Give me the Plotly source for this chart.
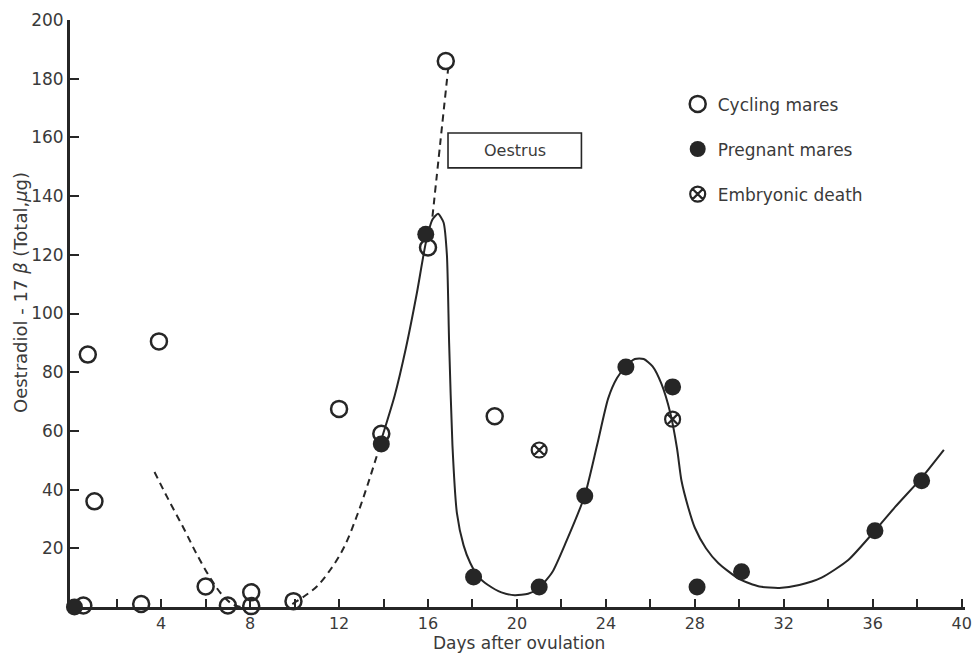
import plotly.graph_objects as go

# ---- data ----
cyc_x = [0.5, 0.7, 1.0, 3.1, 3.9, 6.0, 7.0, 8.05, 8.05, 9.95, 12.0, 13.9, 16.0, 16.8, 19.0]
cyc_y = [0.5, 86, 36, 1, 90.5, 7, 0.5, 5, 0.3, 2, 67.5, 59, 122.5, 186, 65]

preg_x = [0.1, 13.9, 15.9, 18.05, 21.0, 23.05, 24.9, 27.0, 28.1, 30.1, 36.1, 38.2]
preg_y = [0.0, 55.5, 127, 10.2, 6.8, 37.8, 81.8, 75, 6.8, 12, 26, 43]

emb_x = [21.0, 27.0]
emb_y = [53.5, 64]

# solid fitted curve (pregnant mares)
solid_x = [13.9, 14.5, 15.0, 15.5, 15.9, 16.2, 16.45, 16.7, 16.85, 16.95, 17.1, 17.3, 17.6,
           17.9, 18.3, 18.7, 19.3, 19.9, 20.5, 21.0, 21.6, 22.2, 23.05, 23.6, 24.1, 24.5,
           24.9, 25.3, 25.7, 26.1, 26.5, 26.9, 27.2, 27.4, 27.7, 28.0, 28.5, 29.05, 30.0,
           30.9, 31.8, 32.7, 33.7, 34.9, 36.1, 37.0, 38.2, 39.2]
solid_y = [57, 72, 88, 107, 124, 132, 134, 131, 120, 90, 55, 32, 21,
           15, 10, 7.5, 5, 4, 4.5, 6.5, 12, 22, 38, 55, 71, 78,
           82, 84.5, 84.5, 82, 76, 66, 54, 43, 34, 27, 20, 15, 9.5,
           7, 6.5, 7.5, 10, 16, 26, 34, 44, 53.5]

# dashed curves (cycling mares)
dash1_x = [3.7, 4.3, 5.0, 5.6, 6.2, 6.7, 7.2, 7.6]
dash1_y = [46, 37, 27, 18, 10, 4.5, 1, 0]
dash2_x = [9.9, 10.5, 11.0, 11.6, 12.2, 12.8, 13.3, 13.8]
dash2_y = [1.0, 4, 7, 12.6, 20, 31, 42, 54]
dash3_x = [16.2, 16.55, 16.9]
dash3_y = [133, 158, 183]

# oestrus box
oes_x = [16.9, 22.9]
oes_y = [149.6, 161.5]

x_ticks = [4, 8, 12, 16, 20, 24, 28, 32, 36, 40]
y_ticks = [20, 40, 60, 80, 100, 120, 140, 160, 180, 200]

INK = "#262626"
TXT = "#3a3a3a"
FONT = "DejaVu Sans"

fig = go.Figure()

fig.add_trace(go.Scatter(x=solid_x, y=solid_y, mode="lines", line=dict(color=INK, width=2, shape="spline", smoothing=0.6),
                         showlegend=False, hoverinfo="skip", cliponaxis=False))
for dx, dy in [(dash1_x, dash1_y), (dash2_x, dash2_y), (dash3_x, dash3_y)]:
    fig.add_trace(go.Scatter(x=dx, y=dy, mode="lines", line=dict(color=INK, width=2, dash="7px,5px", shape="spline"),
                             showlegend=False, hoverinfo="skip", cliponaxis=False))

fig.add_trace(go.Scatter(x=cyc_x, y=cyc_y, mode="markers", name="Cycling mares", legendgroup="a",
                         marker=dict(symbol="circle-open", size=16, color=INK, line=dict(width=2.5, color=INK)),
                         cliponaxis=False))
fig.add_trace(go.Scatter(x=preg_x, y=preg_y, mode="markers", name="Pregnant mares", legendgroup="b",
                         marker=dict(symbol="circle", size=17, color=INK, line=dict(width=0)),
                         cliponaxis=False))
fig.add_trace(go.Scatter(x=emb_x, y=emb_y, mode="markers", name="Embryonic death", legendgroup="c",
                         marker=dict(symbol="circle-x-open", size=15, color=INK, line=dict(width=2.2, color=INK)),
                         cliponaxis=False))

fig.add_shape(type="rect", xref="x", yref="y", x0=oes_x[0], x1=oes_x[1], y0=oes_y[0], y1=oes_y[1],
              line=dict(color=INK, width=1.6), fillcolor="rgba(0,0,0,0)")
fig.add_annotation(x=(oes_x[0] + oes_x[1]) / 2, y=(oes_y[0] + oes_y[1]) / 2, text="Oestrus", showarrow=False,
                   font=dict(family=FONT, size=16, color=TXT))

fig.add_annotation(xref="paper", yref="paper", x=-0.0547, y=0.535, xanchor="center", yanchor="middle",
                   text="Oestradiol - 17 <i>β</i> (Total,<i>μ</i>g)",
                   textangle=-90, showarrow=False, font=dict(family=FONT, size=18, color=TXT))
fig.add_annotation(xref="paper", yref="paper", x=0.502, y=-0.0615, xanchor="center", yanchor="middle",
                   text="Days after ovulation", showarrow=False, font=dict(family=FONT, size=17, color=TXT))

fig.update_layout(
    width=974, height=653,
    margin=dict(l=70, r=9, t=20, b=46, autoexpand=False),
    plot_bgcolor="white", paper_bgcolor="white",
    font=dict(family=FONT, size=16, color=TXT),
    legend=dict(x=0.679, y=0.887, xanchor="left", yanchor="top", bgcolor="rgba(0,0,0,0)",
                tracegroupgap=20, font=dict(family=FONT, size=17, color=TXT)),
    xaxis=dict(range=[-0.1, 40.15], tickvals=x_ticks, ticks="inside", ticklen=8, tickwidth=2, tickcolor=INK,
               tickfont=dict(family=FONT, size=16, color=TXT),
               minor=dict(dtick=2, tick0=0, ticks="inside", ticklen=8, tickwidth=2, tickcolor=INK),
               showline=True, linewidth=3, linecolor=INK, showgrid=False, zeroline=False, automargin=False),
    yaxis=dict(range=[0, 200], tickvals=y_ticks, ticks="inside", ticklen=9, tickwidth=2, tickcolor=INK,
               tickfont=dict(family=FONT, size=17, color=TXT),
               showline=True, linewidth=3, linecolor=INK, showgrid=False, zeroline=False, automargin=False),
)

# remove the default page margin so the 974x653 figure fills the window exactly
fig.write_html("out.html", config={"displayModeBar": False},
               post_script="document.body.style.margin='0';document.body.style.overflow='hidden';")
